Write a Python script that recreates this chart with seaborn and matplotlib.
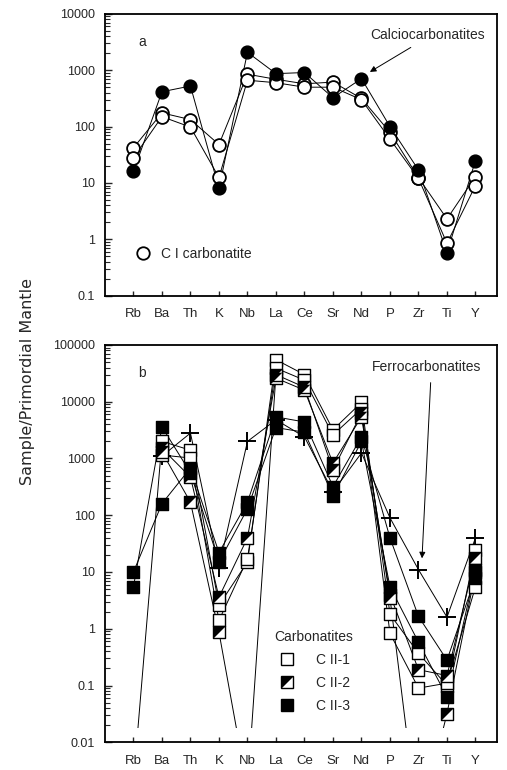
import matplotlib.pyplot as plt
import numpy as np
import pandas as pd
import seaborn as sns
from matplotlib.legend_handler import HandlerTuple
from matplotlib.lines import Line2D
from matplotlib.markers import MarkerStyle
from matplotlib.patches import Rectangle
from matplotlib.path import Path
from matplotlib.ticker import FuncFormatter, LogLocator, NullFormatter

nan = np.nan
elements = ["Rb", "Ba", "Th", "K", "Nb", "La", "Ce", "Sr", "Nd", "P", "Zr", "Ti", "Y"]

# panel a: calciocarbonatites (C I)
calcio_filled = [16, 415, 525, 8, 2080, 870, 910, 325, 710, 100, 17, 0.58, 25]
calcio_open_1 = [42, 175, 133, 48, 850, 690, 575, 615, 316, 79, 12.4, 2.3, 13]
calcio_open_2 = [28, 150, 98, 12.5, 665, 600, 500, 500, 300, 60, 12, 0.85, 9]

# panel b: ferrocarbonatites (C II); values below 0.01 are off-scale
cii1_a = [0.002, 2000, 1400, 2.6, 15, 55000, 30000, 3200, 9700, 1.8, 0.37, 0.10, 24]
cii1_b = [nan, 1150, 1020, 1.4, 17, 39000, 24000, 2600, 7500, 0.83, 0.09, 0.11, 5.5]
cii2_a = [nan, 1500, 470, 3.6, 40, 26000, 16000, 830, 5400, 4.0, 0.19, 0.15, 18]
cii2_b = [nan, 1300, 170, 0.87, 0.0015, 30000, 18000, 630, 6300, 3.5, 0.0003, 0.032, 10]
cii3_a = [10, 160, 680, 22, 170, 5400, 4400, 320, 2400, 40, 1.65, 0.28, 8]
cii3_b = [5.5, 3600, 560, 15, 130, 3500, 2900, 220, 2000, 5.5, 0.58, 0.063, 11]
ferro_plus = [nan, 1100, 2800, 12, 2000, 4800, 2400, 260, 1250, 90, 11, 1.6, 40]


def long_form(series):
    rows = []
    for name, (kind, values) in series.items():
        for i, v in enumerate(values):
            if not np.isnan(v):
                rows.append({"sample": name, "kind": kind, "pos": i, "value": v})
    return pd.DataFrame(rows)


df_a = long_form({
    "filled": ("filled", calcio_filled),
    "open1": ("open", calcio_open_1),
    "open2": ("open", calcio_open_2),
})
df_b = long_form({
    "plus": ("plus", ferro_plus),
    "c1a": ("open", cii1_a),
    "c1b": ("open", cii1_b),
    "c2a": ("half", cii2_a),
    "c2b": ("half", cii2_b),
    "c3a": ("filled", cii3_a),
    "c3b": ("filled", cii3_b),
})

sns.set_theme(style="ticks")
plt.rcParams["font.family"] = ["Liberation Sans", "DejaVu Sans"]

# square split on the diagonal: upper-left half black
tri = MarkerStyle(Path([(-0.5, -0.5), (-0.5, 0.5), (0.5, 0.5), (-0.5, -0.5)]))

fig = plt.figure(figsize=(5.07, 7.70), dpi=100)
ax_a = fig.add_axes([0.207, 0.616, 0.773, 0.366])
ax_b = fig.add_axes([0.207, 0.036, 0.773, 0.516])


def style_axis(ax, lo, hi):
    ax.set_yscale("log")
    ax.set_ylim(lo, hi)
    ax.set_xlim(-1, 12.75)
    ax.set_xticks(range(len(elements)))
    ax.set_xticklabels(elements)
    ax.yaxis.set_major_locator(LogLocator(base=10, numticks=20))
    ax.yaxis.set_major_formatter(FuncFormatter(lambda v, p: f"{v:g}"))
    ax.yaxis.set_minor_locator(LogLocator(base=10, subs=np.arange(2, 10), numticks=40))
    ax.yaxis.set_minor_formatter(NullFormatter())
    ax.tick_params(axis="y", which="major", direction="in", length=5, width=1, pad=7,
                   labelsize=9)
    ax.tick_params(axis="y", which="minor", direction="in", length=3.5, width=0.8)
    ax.tick_params(axis="x", direction="in", length=3.5, width=1, pad=9, labelsize=9.5)
    ax.set_xlabel("")
    ax.set_ylabel("")
    for sp in ax.spines.values():
        sp.set_visible(True)
        sp.set_linewidth(1.3)
        sp.set_color("black")


def draw_lines(ax, df):
    sns.lineplot(data=df, x="pos", y="value", units="sample", estimator=None, sort=False,
                 color="black", linewidth=0.7, legend=False, ax=ax)
    for line in ax.lines:
        line.set_clip_path(Rectangle((-2, 0.018), 20, 1e8, transform=ax.transData))


# ---- panel a ----
style_axis(ax_a, 0.1, 10000)
draw_lines(ax_a, df_a)
sns.scatterplot(data=df_a[df_a.kind == "open"], x="pos", y="value", marker="o",
                color="white", edgecolor="black", linewidth=1.3, s=85, zorder=3,
                legend=False, ax=ax_a)
sns.scatterplot(data=df_a[df_a.kind == "filled"], x="pos", y="value", marker="o",
                color="black", edgecolor="black", linewidth=1, s=85, zorder=4,
                legend=False, ax=ax_a)
style_axis(ax_a, 0.1, 10000)
ax_a.text(0.094, 0.90, "a", transform=ax_a.transAxes, fontsize=10, ha="center", va="center")
ax_a.annotate("Calciocarbonatites", xy=(0.676, 0.794), xytext=(0.824, 0.925),
              xycoords="axes fraction", textcoords="axes fraction", fontsize=10,
              ha="center", va="center",
              arrowprops=dict(arrowstyle="-|>", color="black", lw=0.7, relpos=(0.43, 0),
                              shrinkA=3, shrinkB=0, mutation_scale=9))
ax_a.legend(handles=[Line2D([], [], ls="", marker="o", mfc="white", mec="black",
                            mew=1.3, ms=9)],
            labels=["C I carbonatite"], loc="center left", bbox_to_anchor=(0.079, 0.149),
            frameon=False, fontsize=10, handlelength=1, handletextpad=0.8,
            borderpad=0, borderaxespad=0)

# ---- panel b ----
style_axis(ax_b, 0.01, 100000)
draw_lines(ax_b, df_b)
sns.scatterplot(data=df_b[df_b.kind == "plus"], x="pos", y="value", marker="+",
                color="black", linewidth=1.4, s=150, zorder=3, legend=False, ax=ax_b)
sns.scatterplot(data=df_b[df_b.kind == "open"], x="pos", y="value", marker="s",
                color="white", edgecolor="black", linewidth=1, s=70, zorder=3,
                legend=False, ax=ax_b)
half = df_b[df_b.kind == "half"]
sns.scatterplot(data=half, x="pos", y="value", marker="s", color="white",
                edgecolor="black", linewidth=1, s=70, zorder=4, legend=False, ax=ax_b)
sns.scatterplot(data=half, x="pos", y="value", marker=tri, color="black",
                linewidth=0, s=70, zorder=4, legend=False, ax=ax_b)
sns.scatterplot(data=df_b[df_b.kind == "filled"], x="pos", y="value", marker="s",
                color="black", edgecolor="black", linewidth=1, s=70, zorder=5,
                legend=False, ax=ax_b)
style_axis(ax_b, 0.01, 100000)
ax_b.text(0.094, 0.93, "b", transform=ax_b.transAxes, fontsize=10, ha="center", va="center")
ax_b.annotate("Ferrocarbonatites", xy=(0.809, 0.463), xytext=(0.821, 0.945),
              xycoords="axes fraction", textcoords="axes fraction", fontsize=10,
              ha="center", va="center",
              arrowprops=dict(arrowstyle="-|>", color="black", lw=0.7, relpos=(0.54, 0),
                              shrinkA=4, shrinkB=0, mutation_scale=9))

h_open = Line2D([], [], ls="", marker="s", mfc="white", mec="black", mew=1, ms=8.5)
h_half_bg = Line2D([], [], ls="", marker="s", mfc="white", mec="black", mew=1, ms=8.5)
h_half_tri = Line2D([], [], ls="", marker=tri, mfc="black", mec="black", mew=0, ms=8.5)
h_fill = Line2D([], [], ls="", marker="s", mfc="black", mec="black", mew=1, ms=8.5)
ax_b.legend(handles=[h_open, (h_half_bg, h_half_tri), h_fill],
            labels=["C II-1", "C II-2", "C II-3"], title="Carbonatites",
            handler_map={tuple: HandlerTuple(ndivide=1, pad=0)},
            loc="upper left", bbox_to_anchor=(0.432, 0.282), frameon=False,
            fontsize=10, title_fontsize=10, handlelength=1.4, handletextpad=1.4,
            labelspacing=0.65, borderpad=0, borderaxespad=0)

fig.text(0.055, 0.505, "Sample/Primordial Mantle", rotation=90, ha="center", va="center",
         fontsize=11.5, family=["DejaVu Sans"])

fig.savefig("out.png", dpi=100)
